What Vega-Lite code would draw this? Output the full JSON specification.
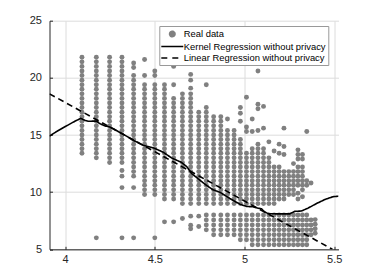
{
  "$schema": "https://vega.github.io/schema/vega-lite/v6.json",
  "width": 289,
  "height": 228.6,
  "autosize": {"type": "none"},
  "padding": {"left": 49.5, "top": 20.7, "right": 35.5, "bottom": 30.7},
  "background": "white",
  "config": {
    "view": {"stroke": null},
    "font": "Liberation Sans",
    "axis": {
      "labelFont": "Liberation Sans",
      "labelFontSize": 11,
      "labelColor": "#262626",
      "domainColor": "#262626",
      "tickColor": "#262626",
      "gridColor": "#dcdcdc",
      "gridWidth": 1,
      "title": null,
      "tickSize": -3,
      "format": "~g"
    },
    "legend": {
      "labelFont": "Liberation Sans",
      "labelFontSize": 9.4,
      "labelColor": "#000000",
      "symbolSize": 100,
      "symbolStrokeWidth": 1.5,
      "labelOffset": 10.5,
      "rowPadding": 0.5,
      "padding": 2,
      "fillColor": "white",
      "strokeColor": "#999999",
      "cornerRadius": 0
    }
  },
  "layer": [
    {
      "data": {
        "values": "x,y\n4.094,13.4\n4.094,13.8\n4.094,14.2\n4.094,14.6\n4.094,15\n4.094,15.4\n4.094,15.8\n4.094,16.2\n4.094,16.6\n4.094,17\n4.094,17.4\n4.094,17.8\n4.094,18.2\n4.094,18.6\n4.094,19\n4.094,19.4\n4.094,19.8\n4.094,20.2\n4.094,20.6\n4.094,21\n4.094,21.4\n4.094,21.8\n4.174,6\n4.174,13\n4.174,13.4\n4.174,13.8\n4.174,14.2\n4.174,14.6\n4.174,15\n4.174,15.4\n4.174,15.8\n4.174,16.2\n4.174,16.6\n4.174,17\n4.174,17.4\n4.174,17.8\n4.174,18.2\n4.174,18.6\n4.174,19\n4.174,19.4\n4.174,19.8\n4.174,20.2\n4.174,20.6\n4.174,21\n4.174,21.4\n4.174,21.8\n4.248,12.6\n4.248,13\n4.248,13.4\n4.248,13.8\n4.248,14.2\n4.248,14.6\n4.248,15\n4.248,15.4\n4.248,15.8\n4.248,16.2\n4.248,16.6\n4.248,17\n4.248,17.4\n4.248,17.8\n4.248,18.2\n4.248,18.6\n4.248,19\n4.248,19.4\n4.248,19.8\n4.248,20.2\n4.248,20.6\n4.248,21\n4.248,21.4\n4.248,21.8\n4.317,6\n4.317,10.4\n4.317,11.4\n4.317,11.9\n4.317,12.6\n4.317,13\n4.317,13.4\n4.317,13.8\n4.317,14.2\n4.317,14.6\n4.317,15\n4.317,15.4\n4.317,15.8\n4.317,16.2\n4.317,16.6\n4.317,17\n4.317,17.4\n4.317,17.8\n4.317,18.2\n4.317,18.6\n4.317,19\n4.317,19.4\n4.317,19.8\n4.317,20.2\n4.317,20.6\n4.317,21\n4.317,21.4\n4.317,21.8\n4.382,6\n4.382,10.4\n4.382,11.4\n4.382,11.8\n4.382,12.2\n4.382,12.6\n4.382,13\n4.382,13.4\n4.382,13.8\n4.382,14.2\n4.382,14.6\n4.382,15\n4.382,15.4\n4.382,15.8\n4.382,16.2\n4.382,16.6\n4.382,17\n4.382,17.4\n4.382,17.8\n4.382,18.2\n4.382,18.6\n4.382,19\n4.382,19.4\n4.382,19.8\n4.382,20.2\n4.382,20.9\n4.382,21.3\n4.443,9.8\n4.443,10.2\n4.443,10.6\n4.443,11\n4.443,11.4\n4.443,11.8\n4.443,12.2\n4.443,12.6\n4.443,13\n4.443,13.4\n4.443,13.8\n4.443,14.2\n4.443,14.6\n4.443,15\n4.443,15.4\n4.443,15.8\n4.443,16.2\n4.443,16.6\n4.443,17\n4.443,17.4\n4.443,17.8\n4.443,18.2\n4.443,18.6\n4.443,19\n4.443,19.4\n4.443,20.2\n4.443,21.6\n4.5,6\n4.5,9.8\n4.5,10.2\n4.5,10.6\n4.5,11\n4.5,11.4\n4.5,11.8\n4.5,12.2\n4.5,12.6\n4.5,13\n4.5,13.4\n4.5,13.8\n4.5,14.2\n4.5,14.6\n4.5,15\n4.5,15.4\n4.5,15.8\n4.5,16.2\n4.5,16.6\n4.5,17\n4.5,17.4\n4.5,17.8\n4.5,18.2\n4.5,18.6\n4.5,19\n4.5,19.4\n4.5,20.2\n4.5,20.6\n4.554,7.4\n4.554,9.4\n4.554,9.8\n4.554,10.2\n4.554,10.6\n4.554,11\n4.554,11.4\n4.554,11.8\n4.554,12.2\n4.554,12.6\n4.554,13\n4.554,13.4\n4.554,13.8\n4.554,14.2\n4.554,14.6\n4.554,15\n4.554,15.4\n4.554,15.8\n4.554,16.2\n4.554,16.6\n4.554,17\n4.554,17.4\n4.554,17.8\n4.554,18.2\n4.554,18.6\n4.554,19\n4.554,19.4\n4.605,7.4\n4.605,9.4\n4.605,9.8\n4.605,10.2\n4.605,10.6\n4.605,11\n4.605,11.4\n4.605,11.8\n4.605,12.2\n4.605,12.6\n4.605,13\n4.605,13.4\n4.605,13.8\n4.605,14.2\n4.605,14.6\n4.605,15\n4.605,15.4\n4.605,15.8\n4.605,16.2\n4.605,16.6\n4.605,17\n4.605,17.4\n4.605,17.8\n4.605,18.2\n4.605,19.4\n4.605,21\n4.654,7.7\n4.654,9\n4.654,9.4\n4.654,9.8\n4.654,10.2\n4.654,10.6\n4.654,11\n4.654,11.4\n4.654,11.8\n4.654,12.2\n4.654,12.6\n4.654,13\n4.654,13.4\n4.654,13.8\n4.654,14.2\n4.654,14.6\n4.654,15\n4.654,15.4\n4.654,15.8\n4.654,16.2\n4.654,16.6\n4.654,17\n4.654,17.4\n4.654,17.8\n4.654,18.2\n4.654,18.6\n4.7,6.8\n4.7,7.1\n4.7,7.9\n4.7,9\n4.7,9.4\n4.7,9.8\n4.7,10.2\n4.7,10.6\n4.7,11\n4.7,11.4\n4.7,11.8\n4.7,12.2\n4.7,12.6\n4.7,13\n4.7,13.4\n4.7,13.8\n4.7,14.2\n4.7,14.6\n4.7,15\n4.7,15.4\n4.7,15.8\n4.7,16.2\n4.7,16.6\n4.7,17\n4.7,17.4\n4.7,17.8\n4.7,18.2\n4.7,18.6\n4.7,19.1\n4.7,19.8\n4.7,20.3\n4.745,7\n4.745,7.9\n4.745,9\n4.745,9.4\n4.745,9.8\n4.745,10.2\n4.745,10.6\n4.745,11\n4.745,11.4\n4.745,11.8\n4.745,12.2\n4.745,12.6\n4.745,13\n4.745,13.4\n4.745,13.8\n4.745,14.2\n4.745,14.6\n4.745,15\n4.745,15.4\n4.745,15.8\n4.745,16.2\n4.745,16.6\n4.745,17\n4.787,6.7\n4.787,7.13\n4.787,7.57\n4.787,8\n4.787,9\n4.787,9.4\n4.787,9.8\n4.787,10.2\n4.787,10.6\n4.787,11\n4.787,11.4\n4.787,11.8\n4.787,12.2\n4.787,12.6\n4.787,13\n4.787,13.4\n4.787,13.8\n4.787,14.2\n4.787,14.6\n4.787,15\n4.787,15.4\n4.787,15.8\n4.787,16.2\n4.787,16.6\n4.787,17\n4.787,17.4\n4.787,19.4\n4.828,6.27\n4.828,6.7\n4.828,7.13\n4.828,7.57\n4.828,8\n4.828,9\n4.828,9.4\n4.828,9.8\n4.828,10.2\n4.828,10.6\n4.828,11\n4.828,11.4\n4.828,11.8\n4.828,12.2\n4.828,12.6\n4.828,13\n4.828,13.4\n4.828,13.8\n4.828,14.2\n4.828,14.6\n4.828,15\n4.828,15.4\n4.828,15.8\n4.828,16.2\n4.828,16.6\n4.868,6.27\n4.868,6.7\n4.868,7.13\n4.868,7.57\n4.868,8\n4.868,9\n4.868,9.4\n4.868,9.8\n4.868,10.2\n4.868,10.6\n4.868,11\n4.868,11.4\n4.868,11.8\n4.868,12.2\n4.868,12.6\n4.868,13\n4.868,13.4\n4.868,13.8\n4.868,14.2\n4.868,14.6\n4.868,15\n4.868,15.4\n4.868,15.8\n4.868,16.2\n4.868,16.6\n4.905,6.27\n4.905,6.7\n4.905,7.13\n4.905,7.57\n4.905,8\n4.905,9\n4.905,9.4\n4.905,9.8\n4.905,10.2\n4.905,10.6\n4.905,11\n4.905,11.4\n4.905,11.8\n4.905,12.2\n4.905,12.6\n4.905,13\n4.905,13.4\n4.905,13.8\n4.905,14.2\n4.905,14.6\n4.905,15\n4.905,15.4\n4.905,16.4\n4.942,6.27\n4.942,6.7\n4.942,7.13\n4.942,7.57\n4.942,8\n4.942,9\n4.942,9.4\n4.942,9.8\n4.942,10.2\n4.942,10.6\n4.942,11\n4.942,11.4\n4.942,11.8\n4.942,12.2\n4.942,12.6\n4.942,13\n4.942,13.4\n4.942,13.8\n4.942,14.2\n4.942,14.6\n4.942,15\n4.942,15.4\n4.977,5.83\n4.977,6.27\n4.977,6.7\n4.977,7.13\n4.977,7.57\n4.977,8\n4.977,9\n4.977,9.4\n4.977,9.8\n4.977,10.2\n4.977,10.6\n4.977,11\n4.977,11.4\n4.977,11.8\n4.977,12.2\n4.977,12.6\n4.977,13\n4.977,13.4\n4.977,13.8\n4.977,14.2\n4.977,14.6\n4.977,16.2\n4.977,16.9\n4.977,17.4\n5.011,5.83\n5.011,6.27\n5.011,6.7\n5.011,7.13\n5.011,7.57\n5.011,8\n5.011,9\n5.011,9.4\n5.011,9.8\n5.011,10.2\n5.011,10.6\n5.011,11\n5.011,11.4\n5.011,11.8\n5.011,12.2\n5.011,12.6\n5.011,13\n5.011,13.4\n5.011,15.3\n5.011,15.7\n5.011,18.3\n5.043,5.4\n5.043,5.83\n5.043,6.27\n5.043,6.7\n5.043,7.13\n5.043,7.57\n5.043,8\n5.043,9\n5.043,9.4\n5.043,9.8\n5.043,10.2\n5.043,10.6\n5.043,11\n5.043,11.4\n5.043,11.8\n5.043,12.2\n5.043,12.6\n5.043,13\n5.043,13.4\n5.043,13.8\n5.043,15.3\n5.043,16.4\n5.075,5.4\n5.075,5.83\n5.075,6.27\n5.075,6.7\n5.075,7.13\n5.075,7.57\n5.075,8\n5.075,9\n5.075,9.4\n5.075,9.8\n5.075,10.2\n5.075,10.6\n5.075,11\n5.075,11.4\n5.075,11.8\n5.075,12.2\n5.075,12.6\n5.075,13\n5.075,13.4\n5.075,13.8\n5.075,14.2\n5.075,15.4\n5.075,17.3\n5.075,17.7\n5.075,20.6\n5.106,5.4\n5.106,5.83\n5.106,6.27\n5.106,6.7\n5.106,7.13\n5.106,7.57\n5.106,8\n5.106,9\n5.106,9.4\n5.106,9.8\n5.106,10.2\n5.106,10.6\n5.106,11\n5.106,11.4\n5.106,11.8\n5.106,12.2\n5.106,12.6\n5.106,13\n5.106,13.4\n5.106,13.8\n5.106,15.6\n5.106,17.5\n5.136,5.4\n5.136,5.83\n5.136,6.27\n5.136,6.7\n5.136,7.13\n5.136,7.57\n5.136,8\n5.136,9\n5.136,9.4\n5.136,9.8\n5.136,10.2\n5.136,10.6\n5.136,11\n5.136,11.4\n5.136,11.8\n5.136,12.2\n5.136,12.6\n5.136,13\n5.136,14.4\n5.165,5.4\n5.165,5.83\n5.165,6.27\n5.165,6.7\n5.165,7.13\n5.165,7.57\n5.165,8\n5.165,9\n5.165,9.4\n5.165,9.8\n5.165,10.2\n5.165,10.6\n5.165,11\n5.165,11.4\n5.165,11.8\n5.165,12.2\n5.165,13.6\n5.193,5.4\n5.193,5.83\n5.193,6.27\n5.193,6.7\n5.193,7.13\n5.193,7.57\n5.193,8\n5.193,9.4\n5.193,9.8\n5.193,10.2\n5.193,10.6\n5.193,11\n5.193,11.4\n5.193,11.8\n5.193,12.2\n5.193,13.4\n5.193,14.2\n5.22,5.4\n5.22,5.83\n5.22,6.27\n5.22,6.7\n5.22,7.13\n5.22,7.57\n5.22,8\n5.22,9.4\n5.22,9.8\n5.22,10.2\n5.22,10.6\n5.22,11\n5.22,11.4\n5.22,11.8\n5.22,13.3\n5.22,14\n5.22,15.6\n5.247,5.4\n5.247,5.83\n5.247,6.27\n5.247,6.7\n5.247,7.13\n5.247,7.57\n5.247,8\n5.247,9.8\n5.247,10.2\n5.247,10.6\n5.247,11\n5.247,11.4\n5.247,11.8\n5.273,5.4\n5.273,5.83\n5.273,6.27\n5.273,6.7\n5.273,7.13\n5.273,7.57\n5.273,8\n5.273,9.8\n5.273,10.2\n5.273,10.6\n5.273,11\n5.273,11.4\n5.273,11.8\n5.273,12.5\n5.298,5.4\n5.298,5.83\n5.298,6.27\n5.298,6.7\n5.298,7.13\n5.298,7.57\n5.298,8\n5.298,9.4\n5.298,9.9\n5.298,10.6\n5.298,11\n5.298,11.4\n5.298,11.8\n5.298,12.2\n5.298,12.9\n5.298,13.3\n5.298,13.7\n5.323,5.4\n5.323,5.83\n5.323,6.27\n5.323,6.7\n5.323,7.13\n5.323,7.57\n5.323,8\n5.323,9.6\n5.323,10.2\n5.323,10.6\n5.323,11\n5.323,11.4\n5.323,11.8\n5.323,12.2\n5.323,12.9\n5.323,13.3\n5.347,5.4\n5.347,5.83\n5.347,6.27\n5.347,6.7\n5.347,7.13\n5.347,7.57\n5.347,8\n5.347,10.6\n5.347,11\n5.347,15.3\n5.371,6.27\n5.371,6.7\n5.371,7.13\n5.371,7.57\n5.371,10.8\n5.394,6.4\n5.394,6.8\n5.394,7.2\n5.394,7.6",
        "format": {"type": "csv"}
      },
      "mark": {"type": "circle", "color": "#808080", "opacity": 1, "size": 24},
      "encoding": {
        "x": {"field": "x", "type": "quantitative", "scale": {"domain": [3.913, 5.524], "nice": false, "zero": false},
              "axis": {"values": [4, 4.5, 5, 5.5], "labelPadding": 7}},
        "y": {"field": "y", "type": "quantitative", "scale": {"domain": [5, 25], "nice": false, "zero": false},
              "axis": {"values": [5, 10, 15, 20, 25], "labelPadding": 11}}
      }
    },
    {
      "data": {
        "values": [
          {"x": 3.913, "y": 14.9, "s": "Kernel Regression without privacy"},
          {"x": 3.952, "y": 15.3, "s": "Kernel Regression without privacy"},
          {"x": 4.008, "y": 15.8, "s": "Kernel Regression without privacy"},
          {"x": 4.054, "y": 16.2, "s": "Kernel Regression without privacy"},
          {"x": 4.087, "y": 16.45, "s": "Kernel Regression without privacy"},
          {"x": 4.109, "y": 16.3, "s": "Kernel Regression without privacy"},
          {"x": 4.128, "y": 16.2, "s": "Kernel Regression without privacy"},
          {"x": 4.174, "y": 16.22, "s": "Kernel Regression without privacy"},
          {"x": 4.193, "y": 16.0, "s": "Kernel Regression without privacy"},
          {"x": 4.221, "y": 15.8, "s": "Kernel Regression without privacy"},
          {"x": 4.249, "y": 15.7, "s": "Kernel Regression without privacy"},
          {"x": 4.28, "y": 15.45, "s": "Kernel Regression without privacy"},
          {"x": 4.314, "y": 15.15, "s": "Kernel Regression without privacy"},
          {"x": 4.342, "y": 14.9, "s": "Kernel Regression without privacy"},
          {"x": 4.379, "y": 14.55, "s": "Kernel Regression without privacy"},
          {"x": 4.435, "y": 14.1, "s": "Kernel Regression without privacy"},
          {"x": 4.496, "y": 13.85, "s": "Kernel Regression without privacy"},
          {"x": 4.546, "y": 13.5, "s": "Kernel Regression without privacy"},
          {"x": 4.593, "y": 13.0, "s": "Kernel Regression without privacy"},
          {"x": 4.649, "y": 12.6, "s": "Kernel Regression without privacy"},
          {"x": 4.68, "y": 12.2, "s": "Kernel Regression without privacy"},
          {"x": 4.704, "y": 11.65, "s": "Kernel Regression without privacy"},
          {"x": 4.751, "y": 11.05, "s": "Kernel Regression without privacy"},
          {"x": 4.788, "y": 10.6, "s": "Kernel Regression without privacy"},
          {"x": 4.825, "y": 10.2, "s": "Kernel Regression without privacy"},
          {"x": 4.862, "y": 10.0, "s": "Kernel Regression without privacy"},
          {"x": 4.918, "y": 9.45, "s": "Kernel Regression without privacy"},
          {"x": 4.974, "y": 8.95, "s": "Kernel Regression without privacy"},
          {"x": 5.011, "y": 8.75, "s": "Kernel Regression without privacy"},
          {"x": 5.048, "y": 8.72, "s": "Kernel Regression without privacy"},
          {"x": 5.076, "y": 8.6, "s": "Kernel Regression without privacy"},
          {"x": 5.095, "y": 8.55, "s": "Kernel Regression without privacy"},
          {"x": 5.11, "y": 8.3, "s": "Kernel Regression without privacy"},
          {"x": 5.131, "y": 8.12, "s": "Kernel Regression without privacy"},
          {"x": 5.178, "y": 8.1, "s": "Kernel Regression without privacy"},
          {"x": 5.252, "y": 8.1, "s": "Kernel Regression without privacy"},
          {"x": 5.28, "y": 8.32, "s": "Kernel Regression without privacy"},
          {"x": 5.317, "y": 8.35, "s": "Kernel Regression without privacy"},
          {"x": 5.354, "y": 8.6, "s": "Kernel Regression without privacy"},
          {"x": 5.401, "y": 9.0, "s": "Kernel Regression without privacy"},
          {"x": 5.447, "y": 9.35, "s": "Kernel Regression without privacy"},
          {"x": 5.493, "y": 9.6, "s": "Kernel Regression without privacy"},
          {"x": 5.524, "y": 9.65, "s": "Kernel Regression without privacy"},
          {"x": 3.913, "y": 18.6, "s": "Linear Regression without privacy"},
          {"x": 5.49, "y": 5.0, "s": "Linear Regression without privacy"}
        ]
      },
      "mark": {"type": "line", "strokeWidth": 1.6, "clip": true},
      "encoding": {
        "x": {"field": "x", "type": "quantitative"},
        "y": {"field": "y", "type": "quantitative"},
        "color": {
          "field": "s", "type": "nominal",
          "scale": {"domain": ["Real data", "Kernel Regression without privacy", "Linear Regression without privacy"],
                    "range": ["#808080", "#000000", "#000000"]},
          "legend": {
            "title": null,
            "orient": "none",
            "legendX": 109.8,
            "legendY": 5.3,
            "encode": {
              "symbols": {
                "update": {
                  "x": {"value": 11},
                  "shape": {"signal": "datum.value === 'Real data' ? 'M-0.55,0A0.55,0.55 0 1,0 0.55,0A0.55,0.55 0 1,0 -0.55,0Z' : 'M-2.2,0H2.2'"},
                  "fill": {"signal": "datum.value === 'Real data' ? '#808080' : 'transparent'"},
                  "stroke": {"signal": "datum.value === 'Real data' ? 'transparent' : '#000000'"},
                  "strokeDash": {"signal": "datum.value === 'Linear Regression without privacy' ? [6, 5] : [1, 0]"},
                  "strokeWidth": {"value": 1.5},
                  "opacity": {"value": 1}
                }
              }
            }
          }
        },
        "strokeDash": {
          "field": "s", "type": "nominal",
          "scale": {"domain": ["Kernel Regression without privacy", "Linear Regression without privacy"],
                    "range": [[1, 0], [6, 4]]},
          "legend": null
        }
      }
    }
  ]
}
